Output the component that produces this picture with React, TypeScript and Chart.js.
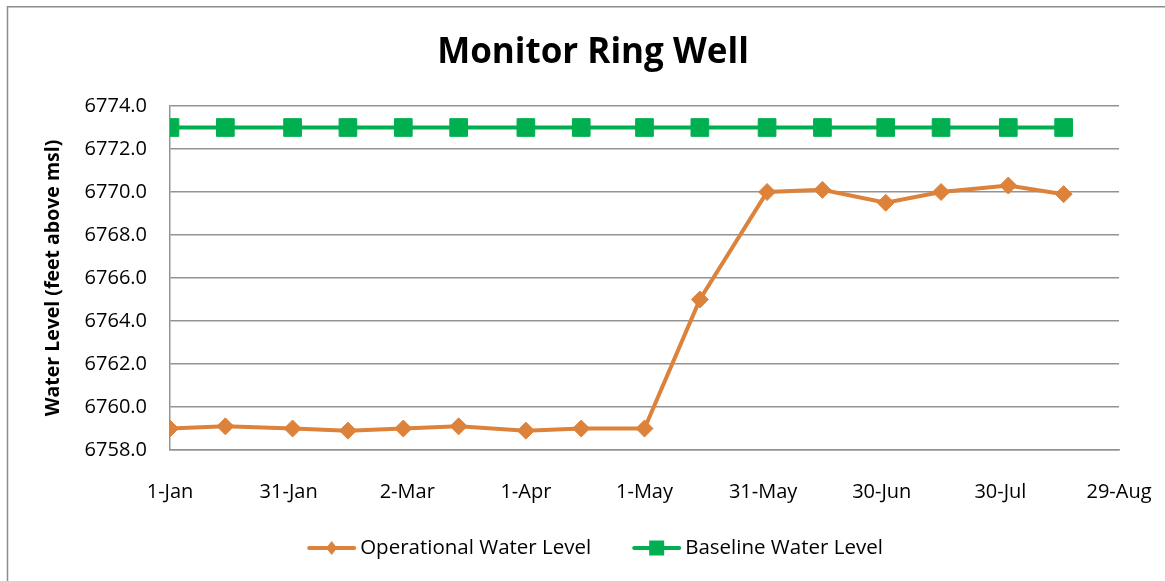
import { useEffect, useRef } from 'react';
import { Chart, registerables } from 'chart.js';

Chart.register(...registerables);

// ---- Data ----
const YEAR = 2015;
const SAMPLE_DATES = [
  '01-01', '01-15', '02-01', '02-15', '03-01', '03-15', '04-01', '04-15',
  '05-01', '05-15', '06-01', '06-15', '07-01', '07-15', '08-01', '08-15',
];
const OPERATIONAL_LEVEL = [
  6759.0, 6759.1, 6759.0, 6758.9, 6759.0, 6759.1, 6758.9, 6759.0,
  6759.0, 6765.0, 6770.0, 6770.1, 6769.5, 6770.0, 6770.3, 6769.9,
];
const BASELINE_LEVEL = [
  6773.0, 6773.0, 6773.0, 6773.0, 6773.0, 6773.0, 6773.0, 6773.0,
  6773.0, 6773.0, 6773.0, 6773.0, 6773.0, 6773.0, 6773.0, 6773.0,
];
const X_TICK_LABELS = ['1-Jan', '31-Jan', '2-Mar', '1-Apr', '1-May', '31-May', '30-Jun', '30-Jul', '29-Aug'];
const X_STEP_DAYS = 30;
const Y_MIN = 6758;
const Y_MAX = 6774;
const Y_STEP = 2;

const TITLE = 'Monitor Ring Well';
const Y_TITLE = 'Water Level (feet above msl)';
const SERIES_NAMES = ['Operational Water Level', 'Baseline Water Level'];

// ---- Styles ----
const ORANGE = '#DC823B';
const GREEN = '#00B050';
const GRID = '#939393';
const FONT = '"Open Sans", "DejaVu Sans", sans-serif';

const dayOfYear = (md: string) => {
  const [m, d] = md.split('-').map(Number);
  return (Date.UTC(YEAR, m - 1, d) - Date.UTC(YEAR, 0, 1)) / 86400000;
};

const decorPlugin = {
  id: 'decor',
  beforeDraw(chart: any) {
    const ctx = chart.ctx;
    ctx.save();
    ctx.strokeStyle = '#8c8c8c';
    ctx.lineWidth = 1.5;
    ctx.strokeRect(7.5, 6.75, 3000, 3000);
    ctx.restore();
  },
  afterDraw(chart: any) {
    const ctx = chart.ctx;
    const cx = 595;
    ctx.save();
    // Title
    ctx.fillStyle = '#000';
    ctx.font = `bold 35px ${FONT}`;
    ctx.textAlign = 'center';
    ctx.textBaseline = 'alphabetic';
    ctx.fillText(TITLE, 593, 63);

    // Legend
    ctx.font = `20.5px ${FONT}`;
    const lineLen = 49;
    const gapText = 4;
    const gapItems = 41;
    const widths = SERIES_NAMES.map((n) => ctx.measureText(n).width);
    const total = widths.reduce((a, w) => a + lineLen + gapText + w, 0) + gapItems;
    let x = cx - total / 2;
    const y = 548;
    const colors = [ORANGE, GREEN];
    SERIES_NAMES.forEach((name, i) => {
      ctx.strokeStyle = colors[i];
      ctx.fillStyle = colors[i];
      ctx.lineWidth = 4;
      ctx.lineCap = 'round';
      ctx.beginPath();
      ctx.moveTo(x + 2, y);
      ctx.lineTo(x + lineLen - 2, y);
      ctx.stroke();
      const mx = x + lineLen / 2;
      ctx.beginPath();
      if (i === 0) {
        ctx.moveTo(mx, y - 7);
        ctx.lineTo(mx + 5.5, y);
        ctx.lineTo(mx, y + 7);
        ctx.lineTo(mx - 5.5, y);
        ctx.closePath();
      } else {
        ctx.rect(mx - 7.5, y - 7.5, 15, 15);
      }
      ctx.fill();
      ctx.fillStyle = '#000';
      ctx.textAlign = 'left';
      ctx.textBaseline = 'middle';
      ctx.fillText(name, x + lineLen + gapText, y);
      x += lineLen + gapText + widths[i] + gapItems;
    });
    ctx.restore();
  },
};

export default function App() {
  const canvasRef = useRef<HTMLCanvasElement | null>(null);

  useEffect(() => {
    if (!canvasRef.current) return;
    const xs = SAMPLE_DATES.map(dayOfYear);
    const chart = new Chart(canvasRef.current, {
      type: 'line',
      data: {
        datasets: [
          {
            label: SERIES_NAMES[0],
            data: xs.map((x, i) => ({ x, y: OPERATIONAL_LEVEL[i] })),
            borderColor: ORANGE,
            backgroundColor: ORANGE,
            pointBackgroundColor: ORANGE,
            pointBorderColor: ORANGE,
            borderWidth: 4,
            pointStyle: 'rectRot',
            pointRadius: 8.5,
            pointBorderWidth: 1,
            tension: 0,
          },
          {
            label: SERIES_NAMES[1],
            data: xs.map((x, i) => ({ x, y: BASELINE_LEVEL[i] })),
            borderColor: GREEN,
            backgroundColor: GREEN,
            pointBackgroundColor: GREEN,
            pointBorderColor: GREEN,
            borderWidth: 4,
            pointStyle: 'rect',
            pointRadius: 12.5,
            pointBorderWidth: 1,
            tension: 0,
          },
        ],
      },
      options: {
        animation: false,
        responsive: false,
        devicePixelRatio: 1,
        layout: { padding: { left: 30, right: 46, top: 106, bottom: 51 } },
        plugins: {
          legend: { display: false },
          title: { display: false },
          tooltip: { enabled: false },
        },
        scales: {
          x: {
            type: 'linear',
            min: 0,
            max: X_STEP_DAYS * (X_TICK_LABELS.length - 1),
            ticks: {
              stepSize: X_STEP_DAYS,
              autoSkip: false,
              maxRotation: 0,
              padding: 22,
              color: '#000',
              font: { family: FONT, size: 20 },
              callback: (_v: any, i: number) => X_TICK_LABELS[i],
            },
            grid: { display: false },
            border: { display: true, color: GRID, width: 1.5 },
            afterFit: (s: any) => {
              s.height = 80;
              s.paddingLeft = 0;
              s.paddingRight = 0;
            },
          },
          y: {
            type: 'linear',
            min: Y_MIN,
            max: Y_MAX,
            ticks: {
              stepSize: Y_STEP,
              padding: 23,
              color: '#000',
              font: { family: FONT, size: 20 },
              callback: (v: any) => Number(v).toFixed(1),
            },
            grid: { color: GRID, lineWidth: 1.5, drawTicks: false },
            border: { display: true, color: GRID, width: 1.5 },
            title: {
              display: true,
              text: Y_TITLE,
              color: '#000',
              font: { family: FONT, size: 19.5, weight: 'bold' },
              padding: { top: 12, bottom: 0 },
            },
            afterFit: (s: any) => { s.width = 140; },
          },
        },
      },
      plugins: [decorPlugin],
    });
    return () => chart.destroy();
  }, []);

  return (
    <div style={{ position: 'fixed', left: 0, top: 0, width: 1165, height: 581, overflow: 'hidden', background: '#fff' }}>
      <canvas ref={canvasRef} width={1165} height={581} style={{ width: 1165, height: 581, display: 'block' }} />
    </div>
  );
}
